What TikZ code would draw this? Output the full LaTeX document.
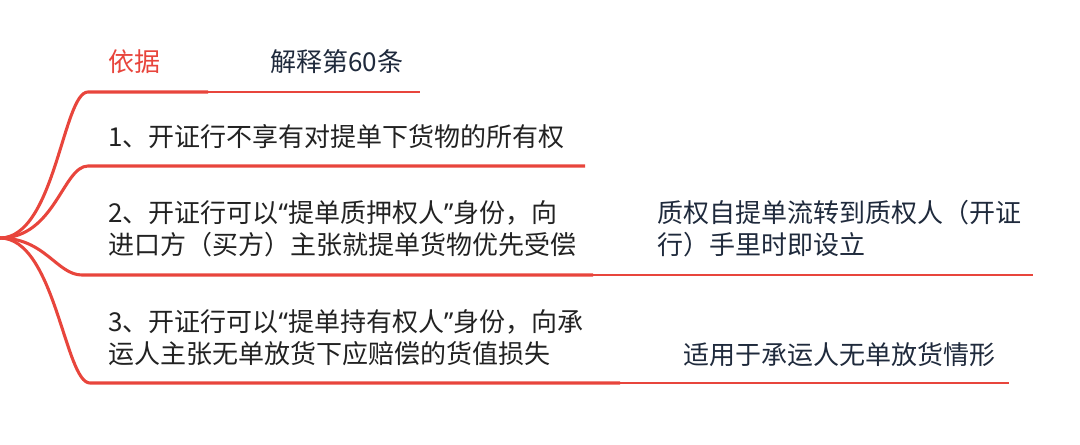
\documentclass[tikz,border=0pt]{standalone}
\usepackage{fontspec}
\setmainfont{Noto Sans CJK SC}
\newfontfamily\quotefont{Noto Sans}

\definecolor{branchred}{HTML}{E8453C}
\definecolor{inknavy}{HTML}{1F2A3C}
\definecolor{inkgray}{HTML}{222222}

\newcommand{\openq}{{\quotefont “}}
\newcommand{\closeq}{{\quotefont ”}}

\tikzset{
  topic/.style={anchor=west, align=left, inner sep=0pt,
    font=\fontsize{19.5}{24}\selectfont, text=inkgray},
  note/.style={topic, text=inknavy},
  tag/.style={topic, text=branchred},
  thickline/.style={draw=branchred, line width=2.3pt},
  thinline/.style={draw=branchred, line width=1.1pt},
}

\begin{document}
\begin{tikzpicture}[x=0.75pt,y=-0.75pt]
  \useasboundingbox (0,0) rectangle (1080,444);

  % root and branch ends
  \coordinate (root) at (0,238);
  \coordinate (s0) at (88,92);
  \coordinate (s1) at (88,166);
  \coordinate (s2) at (82,275);
  \coordinate (s3) at (90,383);
  \coordinate (e0) at (208,92);
  \coordinate (f0) at (420,92);
  \coordinate (e1) at (585,166);
  \coordinate (e2) at (593,275);
  \coordinate (f2) at (1033,275);
  \coordinate (e3) at (620,383);
  \coordinate (f3) at (1009,383);

  % texts
  \node[tag] (basis) at (108,62) {依据};
  \node[note] (article) at (270,62) {解释第60条};
  \node[topic] (point1) at (108,137) {1、开证行不享有对提单下货物的所有权};
  \node[topic] (point2) at (108,229) {2、开证行可以\openq 提单质押权人\closeq 身份，向\\进口方（买方）主张就提单货物优先受偿};
  \node[note] (remark2) at (657,229) {质权自提单流转到质权人（开证\\行）手里时即设立};
  \node[topic] (point3) at (108,338) {3、开证行可以\openq 提单持有权人\closeq 身份，向承\\运人主张无单放货下应赔偿的货值损失};
  \node[note] (remark3) at (683,355) {适用于承运人无单放货情形};

  % branches
  \draw[thickline] (root) .. controls +(55,0) and +(-25,0) .. (s0) -- (e0);
  \draw[thinline] (e0) -- (f0);
  \draw[thickline] (root) .. controls +(55,0) and +(-25,0) .. (s1) -- (e1);
  \draw[thickline] (root) .. controls +(45,0) and +(-25,0) .. (s2) -- (e2);
  \draw[thinline] (e2) -- (f2);
  \draw[thickline] (root) .. controls +(55,0) and +(-25,0) .. (s3) -- (e3);
  \draw[thinline] (e3) -- (f3);
\end{tikzpicture}
\end{document}
